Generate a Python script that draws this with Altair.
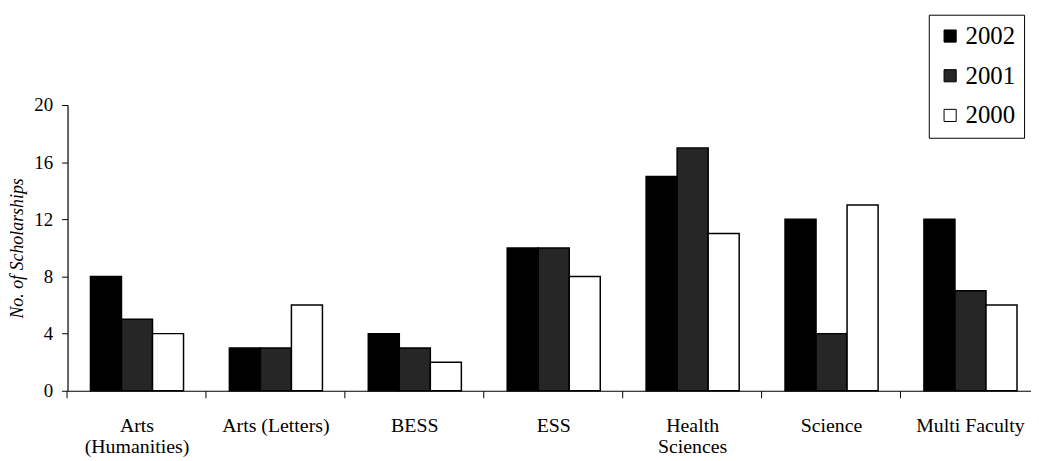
import altair as alt
import pandas as pd

categories = ["Arts (Humanities)", "Arts (Letters)", "BESS", "ESS",
              "Health Sciences", "Science", "Multi Faculty"]
years = ["2002", "2001", "2000"]
values_2002 = [8, 3, 4, 10, 15, 12, 12]
values_2001 = [5, 3, 3, 10, 17, 4, 7]
values_2000 = [4, 6, 2, 8, 11, 13, 6]
y_ticks = [0, 4, 8, 12, 16, 20]
colors = ["#000000", "#262626", "#ffffff"]

rows = []
for yr, vals in zip(years, [values_2002, values_2001, values_2000]):
    for c, v in zip(categories, vals):
        rows.append({"category": c, "year": yr, "value": v})
df = pd.DataFrame(rows)

FONT = "Liberation Serif"

label_expr = ("datum.label == 'Arts (Humanities)' ? ['Arts', '(Humanities)'] : "
              "datum.label == 'Health Sciences' ? ['Health', 'Sciences'] : datum.label")

x_scale = alt.Scale(domain=categories, range=[0, 980], paddingInner=0.33, paddingOuter=0.165)

bars = alt.Chart(df).mark_bar(stroke="black", strokeWidth=1.5).encode(
    x=alt.X("category:N", sort=categories, scale=x_scale,
            axis=alt.Axis(title=None, orient="bottom", ticks=False, labelAngle=0,
                          labelExpr=label_expr, labelFont=FONT, labelFontSize=20,
                          labelColor="black", labelPadding=25, labelLineHeight=21,
                          labelBaseline="top",
                          domainColor="black", domainWidth=1.2)),
    xOffset=alt.XOffset("year:N", sort=years, scale=alt.Scale(domain=years, paddingInner=0, paddingOuter=0)),
    y=alt.Y("value:Q", scale=alt.Scale(domain=[0, 20], nice=False),
            axis=alt.Axis(title="No. of Scholarships", values=y_ticks, grid=False,
                          domainColor="black", domainWidth=1.2,
                          tickColor="black", tickSize=6, labelPadding=9,
                          labelFont=FONT, labelFontSize=19, labelColor="black",
                          titleFont=FONT, titleFontSize=18, titleFontStyle="italic",
                          titleFontWeight="normal", titleColor="black",
                          titleAngle=-90, titleX=-50, titleY=144,
                          titleAlign="center", titleBaseline="middle")),
    fill=alt.Fill("year:N", sort=years,
                  scale=alt.Scale(domain=years, range=colors),
                  legend=alt.Legend(title=None, orient="none", legendX=868, legendY=-91,
                                    strokeColor="black", padding=9, rowPadding=14,
                                    symbolType="square", symbolSize=150,
                                    symbolStrokeColor="black", symbolStrokeWidth=1,
                                    symbolOpacity=1,
                                    labelFont=FONT, labelFontSize=25, labelColor="black",
                                    labelOffset=3)),
)

ticks = alt.Chart(df).mark_point(opacity=0).encode(
    x=alt.X("category:N", sort=categories, scale=x_scale,
            axis=alt.Axis(title=None, orient="bottom", labels=False, domain=False,
                          ticks=True, bandPosition=-0.2463, tickColor="black",
                          tickSize=7, tickWidth=1)),
    y=alt.value(288),
)

chart = alt.layer(bars, ticks).resolve_axis(x="independent").properties(
    width=971, height=288,
    autosize=alt.AutoSizeParams(type="none"),
    padding={"left": 60, "top": 96, "right": 0, "bottom": 69},
).configure(background="white").configure_view(stroke=None)

chart.save("out.html", embed_options={"renderer": "svg", "actions": False})
